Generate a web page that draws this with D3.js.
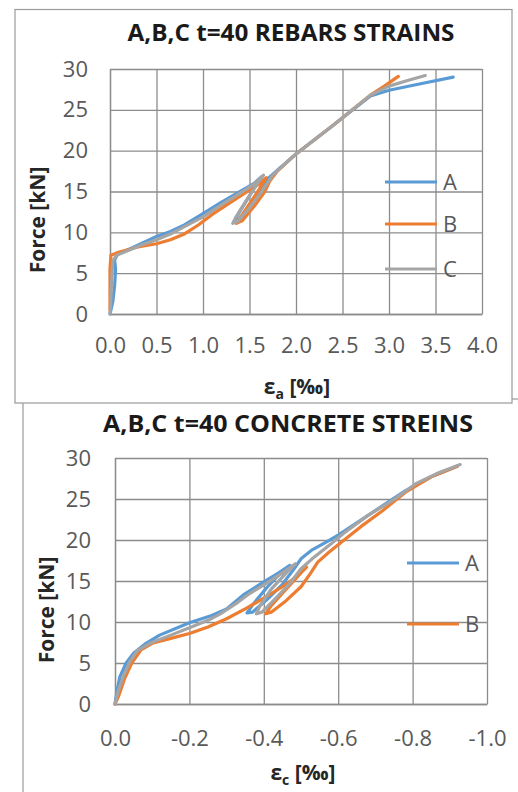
<!DOCTYPE html>
<html lang="en">
<head>
    <meta charset="UTF-8">
    <script src="https://d3js.org/d3.v7.min.js"></script>
    <style>
        body {margin: 0; background-color: #fff}
        svg {display: block}
    </style>
</head>
<body>
<svg class="chart" width="518" height="792"></svg>
<script type="text/javascript">
    // force ticks (kN), shared by both charts
    const forceTicks = [0, 5, 10, 15, 20, 25, 30];

    // rebar strain axis
    const rebarTicks = [0, 0.5, 1.0, 1.5, 2.0, 2.5, 3.0, 3.5, 4.0];
    const rebarTickLabels = ['0.0', '0.5', '1.0', '1.5', '2.0', '2.5', '3.0', '3.5', '4.0'];

    // concrete strain axis
    const concreteTicks = [0, -0.2, -0.4, -0.6, -0.8, -1.0];
    const concreteTickLabels = ['0.0', '-0.2', '-0.4', '-0.6', '-0.8', '-1.0'];

    const seriesNames = ['A', 'B', 'C'];
    const seriesColors = ['#5b9bd5', '#ed7d31', '#a5a5a5'];

    // [strain ‰, force kN]
    const rebarA = [[0.0, 0], [0.03, 1.5], [0.05, 3.5], [0.06, 5.5], [0.05, 6.6], [0.08, 7.3], [0.2, 7.9],
        [0.35, 8.7], [0.5, 9.5], [0.65, 10.1], [0.8, 10.9], [1.0, 12.3], [1.2, 13.7], [1.4, 15.0], [1.55, 16.0],
        [1.63, 16.8], [1.55, 15.4], [1.42, 13.0], [1.33, 11.2], [1.4, 11.6], [1.52, 13.3], [1.63, 15.2],
        [1.7, 16.6], [1.8, 17.6], [2.0, 19.6], [2.4, 23.1], [2.8, 26.7], [3.0, 27.4], [3.3, 28.1], [3.69, 29.0]];
    const rebarB = [[0.0, 0.5], [0.0, 3], [0.0, 5.5], [0.01, 7.2], [0.1, 7.6], [0.3, 8.2], [0.5, 8.6],
        [0.65, 9.1], [0.8, 9.8], [0.95, 10.9], [1.1, 12.2], [1.3, 13.7], [1.45, 14.8], [1.6, 15.9], [1.68, 16.7],
        [1.6, 15.2], [1.46, 12.8], [1.36, 11.1], [1.42, 11.4], [1.55, 13.2], [1.66, 14.9], [1.72, 16.3],
        [1.8, 17.5], [2.0, 19.6], [2.4, 23.1], [2.8, 26.8], [2.95, 27.9], [3.1, 29.1]];
    const rebarC = [[0.0, 0], [0.01, 2], [0.02, 4.5], [0.03, 6.5], [0.07, 7.2], [0.2, 7.8], [0.35, 8.5],
        [0.5, 9.1], [0.65, 9.8], [0.8, 10.7], [1.0, 11.9], [1.2, 13.4], [1.4, 14.8], [1.55, 15.9], [1.65, 17.0],
        [1.58, 15.9], [1.45, 13.6], [1.35, 11.8], [1.32, 11.1], [1.37, 11.3], [1.5, 13.0], [1.62, 14.8],
        [1.68, 15.8], [1.75, 17.0], [2.0, 19.6], [2.4, 23.1], [2.8, 26.8], [3.0, 27.9], [3.2, 28.6], [3.39, 29.2]];

    const concreteA = [[0, 0], [-0.005, 1.5], [-0.013, 3.3], [-0.03, 5], [-0.05, 6.2], [-0.08, 7.3],
        [-0.12, 8.4], [-0.2, 9.9], [-0.26, 10.8], [-0.3, 11.6], [-0.345, 13.3], [-0.4, 14.9], [-0.44, 16.0],
        [-0.47, 16.9], [-0.45, 16.2], [-0.41, 14.3], [-0.37, 12.1], [-0.355, 11.1], [-0.37, 11.2],
        [-0.41, 12.8], [-0.45, 14.6], [-0.48, 16.4], [-0.5, 17.7], [-0.53, 18.8], [-0.57, 19.8], [-0.6, 20.6],
        [-0.66, 22.4], [-0.72, 24.2], [-0.78, 26.0], [-0.85, 27.7], [-0.92, 29.0]];
    const concreteB = [[0, 0], [-0.01, 1.0], [-0.025, 3], [-0.045, 5], [-0.07, 6.6], [-0.1, 7.4],
        [-0.15, 8.0], [-0.2, 8.6], [-0.25, 9.4], [-0.3, 10.4], [-0.35, 11.6], [-0.4, 12.9], [-0.45, 14.3],
        [-0.49, 15.6], [-0.515, 16.7], [-0.5, 16.0], [-0.46, 14.0], [-0.42, 12.0], [-0.405, 11.0],
        [-0.42, 11.2], [-0.46, 12.6], [-0.5, 14.3], [-0.525, 15.9], [-0.545, 17.3], [-0.575, 18.5],
        [-0.61, 19.8], [-0.66, 21.6], [-0.72, 23.6], [-0.78, 25.8], [-0.85, 27.7], [-0.92, 29.0]];
    const concreteC = [[0, 0], [-0.008, 1.5], [-0.022, 3.3], [-0.04, 5.2], [-0.06, 6.5], [-0.094, 7.4],
        [-0.15, 8.4], [-0.2, 9.3], [-0.25, 10.2], [-0.283, 11.0], [-0.33, 12.4], [-0.363, 13.5],
        [-0.41, 14.8], [-0.45, 16.0], [-0.485, 17.1], [-0.465, 16.2], [-0.42, 14.0], [-0.39, 12.0],
        [-0.38, 11.0], [-0.395, 11.2], [-0.43, 12.8], [-0.47, 14.7], [-0.5, 16.5], [-0.53, 17.7],
        [-0.58, 19.5], [-0.614, 20.8], [-0.68, 23.0], [-0.749, 24.9], [-0.81, 26.9], [-0.87, 28.2],
        [-0.928, 29.2]];

    const svg = d3.select('.chart');
    const font = "'Open Sans', sans-serif";

    function drawChart(cfg) {
        let g = svg.append('g');

        // chart frame
        g.append('rect')
            .attr('x', cfg.frame[0]).attr('y', cfg.frame[1])
            .attr('width', cfg.frame[2]).attr('height', cfg.frame[3])
            .attr('fill', '#fff').attr('stroke', '#9a9a9a').attr('stroke-width', 1.2);

        let x = d3.scaleLinear().domain(cfg.xDomain).range([cfg.left, cfg.right]);
        let y = d3.scaleLinear().domain([0, 30]).range([cfg.bottom, cfg.top]);

        let xAxis = g.append('g')
            .attr('transform', 'translate(0,' + cfg.bottom + ')')
            .call(d3.axisBottom(x).tickValues(cfg.xTicks)
                .tickFormat((d, i) => cfg.xLabels[i])
                .tickSize(-(cfg.bottom - cfg.top)).tickSizeOuter(0).tickPadding(cfg.xPad));
        let yAxis = g.append('g')
            .attr('transform', 'translate(' + cfg.left + ',0)')
            .call(d3.axisLeft(y).tickValues(forceTicks)
                .tickSize(-(cfg.right - cfg.left)).tickSizeOuter(0).tickPadding(cfg.yPad));

        [xAxis, yAxis].forEach(a => {
            a.select('.domain').attr('stroke', '#8c8c8c').attr('stroke-width', 1.3);
            a.selectAll('line').attr('stroke', '#8c8c8c').attr('stroke-width', 1.3);
            a.selectAll('text').attr('fill', '#595959')
                .style('font-family', font).style('font-size', '22px');
        });

        let line = d3.line().x(d => x(d[0])).y(d => y(d[1])).curve(d3.curveLinear);
        cfg.series.forEach((s, i) => {
            g.append('path')
                .datum(s)
                .attr('d', line)
                .attr('fill', 'none')
                .attr('stroke', seriesColors[i])
                .attr('stroke-width', 3.2)
                .attr('stroke-linejoin', 'round')
                .attr('stroke-linecap', 'round');
        });

        // title
        g.append('text')
            .attr('x', cfg.titleX).attr('y', cfg.titleY)
            .attr('text-anchor', 'middle')
            .attr('textLength', cfg.titleLen).attr('lengthAdjust', 'spacingAndGlyphs')
            .style('font-family', font).style('font-size', '24px').style('font-weight', 'bold')
            .attr('fill', '#1a1a1a')
            .text(cfg.title);

        // y axis title
        g.append('text')
            .attr('transform', 'translate(' + cfg.yTitle[0] + ',' + cfg.yTitle[1] + ') rotate(-90)')
            .attr('text-anchor', 'middle').attr('dy', '0.35em')
            .style('font-family', font).style('font-size', '21px').style('font-weight', 'bold')
            .attr('fill', '#262626')
            .text('Force [kN]');

        // x axis title with subscript
        let xt = g.append('text')
            .attr('x', cfg.xTitle[0]).attr('y', cfg.xTitle[1])
            .attr('text-anchor', 'middle')
            .style('font-family', font).style('font-size', '21px').style('font-weight', 'bold')
            .attr('fill', '#262626');
        xt.append('tspan').text('ε');
        xt.append('tspan').attr('dy', 5).style('font-size', '14px').text(cfg.sub);
        xt.append('tspan').attr('dy', -5).text(' [‰]');

        // legend
        cfg.legendY.forEach((ly, i) => {
            g.append('line')
                .attr('x1', cfg.legendX).attr('x2', cfg.legendX + 52)
                .attr('y1', ly).attr('y2', ly)
                .attr('stroke', seriesColors[i]).attr('stroke-width', 3.2);
            g.append('text')
                .attr('x', cfg.legendX + 58).attr('y', ly).attr('dy', '0.36em')
                .style('font-family', font).style('font-size', '22px')
                .attr('fill', '#595959')
                .text(seriesNames[i]);
        });
    }

    // lower chart first, the upper frame overlaps it
    drawChart({
        frame: [23, 399, 540, 420],
        xDomain: [0, -1.0], xTicks: concreteTicks, xLabels: concreteTickLabels,
        left: 115, right: 487, top: 458, bottom: 704, xPad: 26, yPad: 24,
        series: [concreteA, concreteB, concreteC],
        title: 'A,B,C t=40 CONCRETE STREINS', titleX: 288, titleY: 432, titleLen: 370,
        yTitle: [47, 610], xTitle: [303, 780], sub: 'c',
        legendX: 407, legendY: [563, 624]
    });

    drawChart({
        frame: [15, 9.5, 497, 393.5],
        xDomain: [0, 4.0], xTicks: rebarTicks, xLabels: rebarTickLabels,
        left: 110, right: 482, top: 69, bottom: 314, xPad: 23, yPad: 22,
        series: [rebarA, rebarB, rebarC],
        title: 'A,B,C t=40 REBARS STRAINS', titleX: 291, titleY: 41, titleLen: 327,
        yTitle: [38, 220], xTitle: [297, 394], sub: 'a',
        legendX: 385, legendY: [182, 224, 269]
    });
</script>
</body>
</html>
